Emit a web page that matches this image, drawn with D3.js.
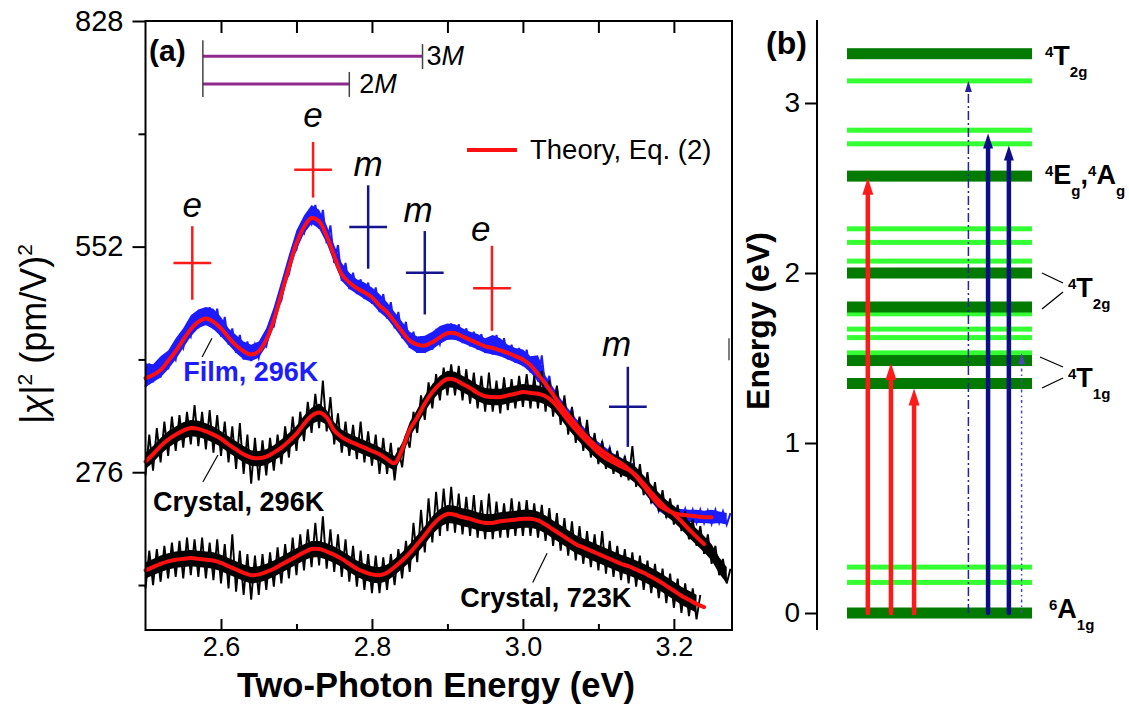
<!DOCTYPE html>
<html>
<head>
<meta charset="utf-8">
<script src="https://cdn.jsdelivr.net/npm/d3@7"></script>
<style>
  body { margin: 0; background: #fff; }
  svg { display: block; font-family: "Liberation Sans", Arial, sans-serif; }
</style>
</head>
<body>
<svg id="chart" width="1129" height="708"></svg>
<script>
// ---------- panel (a): two-photon spectra, energy grid 2.50 + i*0.01 eV ----------
const energyStart = 2.5;
const energyStep = 0.01;

// theory curves (red), |chi|^2 in (pm/V)^2
const filmTheory = [
  391, 395, 401, 412, 424, 438, 451, 460, 464, 460,
  452, 441, 431, 424, 420, 424, 438, 462, 494, 526,
  556, 576, 587, 583, 565, 541, 518, 508, 501, 496,
  490, 480, 472, 460, 448, 437, 432, 431, 435, 441,
  446, 446, 442, 438, 434, 430, 428, 425, 422, 418,
  414, 407, 396, 384, 371, 358, 346, 335, 324, 314,
  306, 299, 293, 287, 280, 271, 259, 247, 236, 230,
  226, 224, 223, 222, 221, 221
];
const crystal296Theory = [
  289, 298, 308, 316, 322, 327, 330, 329, 326, 322,
  317, 310, 304, 298, 294, 293, 295, 300, 306, 314,
  323, 335, 345, 349, 343, 327, 319, 314, 310, 306,
  302, 298, 292, 287, 304, 328, 343, 360, 374, 384,
  390, 389, 384, 379, 373, 369, 368, 368, 370, 372,
  374, 373, 372, 369, 362, 351, 339, 328, 318, 309,
  300, 293, 288, 283, 279, 272, 262, 251, 241, 232,
  225, 216, 206, 197, 188
];
const crystal723Theory = [
  156, 160, 164, 167, 169, 170, 171, 170, 169, 168,
  165, 161, 157, 153, 150, 151, 154, 158, 163, 168,
  173, 178, 182, 182, 179, 175, 170, 164, 158, 154,
  151, 150, 153, 160, 168, 177, 188, 199, 211, 220,
  225, 224, 221, 219, 216, 214, 214, 216, 217, 218,
  219, 219, 217, 212, 206, 200, 194, 188, 184, 180,
  176, 172, 168, 164, 161, 157, 153, 148, 143, 137,
  131, 125, 120, 115, 111
];

// measured data: extreme excursions (spikes) in each 0.01 eV bin
const filmHi = [
  409, 408, 418, 425, 440, 452, 468, 475, 478, 476,
  466, 452, 444, 436, 432, 436, 452, 478, 510, 542,
  572, 590, 603, 597, 578, 554, 532, 520, 512, 508,
  502, 494, 484, 472, 460, 448, 442, 443, 448, 455,
  458, 457, 452, 448, 445, 440, 444, 440, 432, 428,
  426, 418, 419, 394, 380, 366, 354, 342, 332, 320,
  313, 306, 299, 294, 287, 277, 264, 252, 241, 236,
  232, 231, 230, 230, 229, 230, 228, 226
];
const filmLo = [
  380, 386, 392, 402, 414, 428, 442, 452, 456, 451,
  442, 432, 422, 414, 412, 416, 430, 454, 486, 518,
  548, 568, 580, 574, 556, 532, 510, 500, 494, 488,
  482, 472, 464, 452, 440, 428, 422, 422, 426, 433,
  438, 438, 434, 430, 426, 422, 420, 418, 414, 410,
  406, 398, 387, 376, 362, 350, 338, 327, 316, 306,
  298, 291, 285, 279, 272, 263, 252, 240, 229, 222,
  218, 216, 215, 214, 214, 213, 214, 212
];
const crystal296Hi = [
  322, 330, 338, 344, 346, 350, 358, 350, 352, 346,
  338, 332, 336, 322, 318, 315, 318, 322, 332, 344,
  350, 362, 372, 388, 368, 348, 338, 334, 338, 326,
  322, 318, 312, 306, 322, 350, 370, 386, 396, 404,
  408, 406, 402, 398, 394, 398, 388, 392, 390, 394,
  396, 394, 400, 388, 382, 370, 356, 344, 340, 324,
  314, 306, 302, 296, 308, 286, 276, 264, 254, 244,
  236, 228, 218, 210, 200, 186, 170, 158
];
const crystal296Lo = [
  272, 278, 288, 296, 302, 306, 310, 308, 304, 300,
  296, 288, 280, 274, 262, 266, 272, 278, 286, 294,
  302, 314, 324, 330, 326, 310, 300, 296, 292, 288,
  284, 274, 274, 266, 282, 306, 324, 340, 354, 364,
  370, 370, 364, 360, 354, 350, 350, 348, 352, 354,
  356, 354, 354, 350, 344, 334, 322, 312, 302, 294,
  286, 280, 274, 270, 266, 258, 248, 238, 228, 220,
  212, 204, 194, 186, 176, 164, 150, 140
];
const crystal723Hi = [
  180, 182, 186, 190, 192, 196, 194, 196, 190, 194,
  188, 200, 180, 176, 174, 176, 178, 184, 188, 196,
  200, 206, 214, 222, 206, 200, 194, 186, 180, 176,
  174, 172, 176, 182, 192, 214, 230, 244, 252, 256,
  258, 250, 246, 248, 242, 250, 240, 238, 244, 240,
  242, 238, 236, 232, 226, 220, 216, 210, 204, 200,
  204, 192, 186, 182, 178, 174, 168, 164, 158, 152,
  146, 140, 134, 126
];
const crystal723Lo = [
  134, 138, 142, 146, 148, 146, 150, 148, 146, 144,
  140, 134, 130, 126, 120, 126, 132, 136, 140, 146,
  150, 156, 160, 162, 158, 154, 148, 142, 136, 132,
  128, 128, 132, 138, 146, 154, 166, 178, 190, 198,
  204, 202, 200, 198, 196, 194, 194, 196, 196, 198,
  198, 198, 196, 192, 186, 180, 174, 168, 164, 160,
  156, 152, 148, 144, 140, 136, 132, 128, 122, 116,
  110, 104, 100, 96
];

// measured data: dense core of the crystal traces
const crystal296CoreHi = [
  300, 308, 318, 326, 332, 337, 340, 339, 336, 332,
  326, 320, 314, 308, 303, 302, 304, 309, 316, 324,
  333, 345, 355, 360, 352, 337, 328, 323, 319, 315,
  311, 307, 301, 296, 312, 337, 353, 370, 384, 394,
  400, 399, 394, 389, 383, 379, 378, 378, 380, 382,
  384, 383, 382, 379, 372, 361, 349, 338, 328, 319,
  310, 303, 298, 293, 289, 282, 272, 261, 251, 242,
  235, 226, 216, 207, 198, 188, 172, 160
];
const crystal296CoreLo = [
  280, 288, 298, 306, 312, 317, 320, 319, 316, 312,
  307, 300, 294, 288, 284, 283, 285, 290, 296, 304,
  313, 325, 335, 339, 334, 318, 310, 305, 301, 297,
  293, 289, 283, 278, 295, 319, 334, 350, 364, 374,
  380, 379, 374, 369, 363, 359, 358, 358, 360, 362,
  364, 363, 362, 359, 352, 341, 329, 318, 308, 299,
  290, 283, 278, 273, 269, 262, 252, 241, 231, 222,
  215, 206, 196, 187, 178, 168, 152, 140
];
const crystal723CoreHi = [
  166, 170, 174, 177, 179, 180, 181, 180, 179, 178,
  175, 171, 167, 163, 160, 161, 164, 168, 173, 178,
  183, 188, 192, 192, 189, 185, 180, 174, 168, 164,
  161, 160, 163, 170, 178, 188, 199, 210, 222, 231,
  236, 235, 232, 230, 227, 225, 225, 227, 228, 229,
  230, 230, 228, 223, 217, 211, 205, 199, 195, 191,
  187, 183, 179, 175, 172, 168, 164, 159, 154, 148,
  142, 136, 131, 126
];
const crystal723CoreLo = [
  146, 150, 154, 157, 159, 160, 161, 160, 159, 158,
  155, 151, 147, 143, 140, 141, 144, 148, 153, 158,
  163, 168, 172, 172, 169, 165, 160, 154, 148, 144,
  141, 140, 143, 150, 158, 166, 177, 188, 200, 209,
  214, 213, 210, 208, 205, 203, 203, 205, 206, 207,
  208, 208, 206, 201, 195, 189, 183, 177, 173, 169,
  165, 161, 157, 153, 150, 146, 142, 137, 132, 126,
  120, 114, 109, 104
];

const xTicksMajor = [2.6, 2.8, 3.0, 3.2];
const xTicksMinor = [2.7, 2.9, 3.1];
const xTicksTop = [2.6, 2.7, 2.8, 2.9, 3.0, 3.1, 3.2];
const yTicksMajor = [276, 552, 828];
const yTicksMinor = [138, 414, 690];

// e / m resonance markers: centre, half height, label anchor
const markers = [
  { label: "e", e: 2.562, v: 532, dv: 45, lx: 2.562, lv: 588 },
  { label: "e", e: 2.722, v: 646, dv: 34, lx: 2.722, lv: 698 },
  { label: "m", e: 2.795, v: 576, dv: 51, lx: 2.795, lv: 638 },
  { label: "m", e: 2.870, v: 520, dv: 51, lx: 2.861, lv: 582 },
  { label: "e", e: 2.959, v: 501, dv: 52, lx: 2.944, lv: 559 },
  { label: "m", e: 3.139, v: 356, dv: 49, lx: 3.124, lv: 418 }
];
const markerHalfWidth = 0.025;

// magnon multiples 2M, 3M starting from the first e line
const mStart = 2.576;
const mEnergy = 0.097;
const multiples = [ { n: 3, v: 785 }, { n: 2, v: 751 } ];

const seriesLabels = [
  { text: "Film, 296K", color: "#1c1cff", e: 2.550, v: 387, from: [2.575, 417], to: [2.588, 440] },
  { text: "Crystal, 296K", color: "#000", e: 2.510, v: 228, from: [2.576, 264], to: [2.596, 297] },
  { text: "Crystal, 723K", color: "#000", e: 2.917, v: 111, from: [3.013, 141], to: [3.032, 177] }
];

// ---------- panel (b): energy levels ----------
const darkLevels = [0, 1.35, 1.485, 1.80, 2.0, 2.57, 3.29];
const lightLevels = [0.18, 0.27, 1.53, 1.62, 1.67, 1.76, 2.07, 2.18, 2.26, 2.76, 2.84, 3.13];
const bTicks = [0, 1, 2, 3];
const arrows = [
  { slot: 0.9, to: 2.56, kind: "red" },
  { slot: 1.9, to: 1.47, kind: "red" },
  { slot: 2.9, to: 1.32, kind: "red" },
  { slot: 5.25, to: 3.13, kind: "dash" },
  { slot: 6.1, to: 2.82, kind: "navy" },
  { slot: 7.0, to: 2.75, kind: "navy" },
  { slot: 7.55, to: 1.53, kind: "dot" }
];

// ======================================================================
const svg = d3.select("#chart");

const x = d3.scaleLinear().domain([2.5, 3.277]).range([145.5, 732]);
const y = d3.scaleLinear().domain([83, 828]).range([630, 21]);

const a = svg.append("g");

const smooth = d3.line().x(d => x(d[0])).y(d => y(d[1])).curve(d3.curveCatmullRom);
const jagged = d3.line().x(d => x(d[0])).y(d => y(d[1]));
const band = d3.area().x(d => x(d[0])).y0(d => y(d[1])).y1(d => y(d[2]));

const withEnergy = vals => vals.map((v, i) => [energyStart + i * energyStep, v]);
const bandOf = (lo, hi) => lo.map((v, i) => [energyStart + i * energyStep, v, hi[i]]);
const trace = (lo, hi) => lo.flatMap((v, i) => [
  [energyStart + i * energyStep, v],
  [energyStart + (i + 0.5) * energyStep, hi[i]]
]);

// film: thick blue band
a.append("path").attr("d", band(bandOf(filmLo, filmHi))).attr("fill", "#1c1cff");
a.append("path").attr("d", jagged(trace(filmLo, filmHi)))
  .attr("fill", "none").attr("stroke", "#1c1cff").attr("stroke-width", 2);

// crystals: dense core plus spikes
[[crystal296CoreLo, crystal296CoreHi, crystal296Lo, crystal296Hi],
 [crystal723CoreLo, crystal723CoreHi, crystal723Lo, crystal723Hi]].forEach(([cl, ch, lo, hi]) => {
  a.append("path").attr("d", band(bandOf(cl, ch))).attr("fill", "#000");
  a.append("path").attr("d", jagged(trace(lo, hi)))
    .attr("fill", "none").attr("stroke", "#000").attr("stroke-width", 1.9);
});

[filmTheory, crystal296Theory, crystal723Theory].forEach(t => {
  a.append("path").attr("d", smooth(withEnergy(t)))
    .attr("fill", "none").attr("stroke", "#ff1010").attr("stroke-width", 4).attr("stroke-linecap", "round");
});

// markers
markers.forEach(m => {
  const col = m.label === "e" ? "#ff1a1a" : "#14148c";
  a.append("line").attr("x1", x(m.e)).attr("x2", x(m.e)).attr("y1", y(m.v + m.dv)).attr("y2", y(m.v - m.dv))
    .attr("stroke", col).attr("stroke-width", 2.5);
  a.append("line").attr("x1", x(m.e - markerHalfWidth)).attr("x2", x(m.e + markerHalfWidth)).attr("y1", y(m.v)).attr("y2", y(m.v))
    .attr("stroke", col).attr("stroke-width", 2.5);
  a.append("text").attr("x", x(m.lx)).attr("y", y(m.lv)).attr("text-anchor", "middle")
    .attr("font-size", 35).attr("font-style", "italic").text(m.label);
});

// 2M / 3M bars
multiples.forEach(d => {
  const x0 = x(mStart), x1 = x(mStart + d.n * mEnergy);
  a.append("line").attr("x1", x0).attr("x2", x1).attr("y1", y(d.v)).attr("y2", y(d.v))
    .attr("stroke", "#8e2a8e").attr("stroke-width", 3);
  a.append("line").attr("x1", x1).attr("x2", x1).attr("y1", y(d.v) - 12).attr("y2", y(d.v) + 13)
    .attr("stroke", "#444").attr("stroke-width", 1.5);
  const t = a.append("text").attr("x", x1 + (d.n === 3 ? 4 : 10)).attr("y", y(d.v) + 9).attr("font-size", 27);
  t.append("tspan").text(d.n);
  t.append("tspan").attr("font-style", "italic").text("M");
});
a.append("line").attr("x1", x(mStart)).attr("x2", x(mStart)).attr("y1", y(multiples[0].v) - 16).attr("y2", y(multiples[1].v) + 13)
  .attr("stroke", "#444").attr("stroke-width", 1.5);

// series labels with leader lines
seriesLabels.forEach(s => {
  a.append("text").attr("x", x(s.e)).attr("y", y(s.v)).attr("font-size", 27).attr("font-weight", "bold")
    .attr("fill", s.color).text(s.text);
  a.append("line").attr("x1", x(s.from[0])).attr("y1", y(s.from[1])).attr("x2", x(s.to[0])).attr("y2", y(s.to[1]))
    .attr("stroke", "#000").attr("stroke-width", 1.2);
});

// legend
a.append("line").attr("x1", 467).attr("x2", 517).attr("y1", 150).attr("y2", 150)
  .attr("stroke", "#ff1010").attr("stroke-width", 4);
a.append("text").attr("x", 530).attr("y", 159).attr("font-size", 27.5).text("Theory, Eq. (2)");

a.append("text").attr("x", 149).attr("y", 61).attr("font-size", 30).attr("font-weight", "bold").text("(a)");

// axes of (a)
function styleAxis(g, size) {
  g.selectAll(".domain").remove();
  g.selectAll(".tick line").attr("stroke-width", 2);
  g.selectAll("text").attr("font-size", size || 26).attr("font-family", null).attr("fill", "#000");
}
a.append("g").attr("transform", "translate(0,630)")
  .call(d3.axisBottom(x).tickValues(xTicksMajor).tickSize(-11).tickPadding(7).tickFormat(d3.format(".1f"))).call(styleAxis, 27);
a.append("g").attr("transform", "translate(0,630)")
  .call(d3.axisBottom(x).tickValues(xTicksMinor).tickSize(-6).tickFormat("")).call(styleAxis);
a.append("g").attr("transform", "translate(0,21)")
  .call(d3.axisTop(x).tickValues(xTicksTop).tickSize(-12).tickFormat("")).call(styleAxis);
a.append("g").attr("transform", "translate(145.5,0)")
  .call(d3.axisLeft(y).tickValues(yTicksMajor).tickSize(13).tickPadding(9)).call(styleAxis, 29);
a.append("g").attr("transform", "translate(145.5,0)")
  .call(d3.axisLeft(y).tickValues(yTicksMinor).tickSize(7).tickFormat("")).call(styleAxis);
a.append("rect").attr("x", 145.5).attr("y", 21).attr("width", 586.5).attr("height", 609)
  .attr("fill", "none").attr("stroke", "#000").attr("stroke-width", 2);
a.append("line").attr("x1", x(3.273)).attr("x2", x(3.273)).attr("y1", y(440)).attr("y2", y(413))
  .attr("stroke", "#555").attr("stroke-width", 1.5);

a.append("text").attr("x", 436).attr("y", 697).attr("text-anchor", "middle")
  .attr("font-size", 34.5).attr("font-weight", "bold").text("Two-Photon Energy (eV)");

const yt = a.append("text").attr("transform", "translate(46,334) rotate(-90)").attr("text-anchor", "middle").attr("font-size", 36);
yt.append("tspan").text("|");
yt.append("tspan").attr("font-style", "italic").text("χ");
yt.append("tspan").text("|");
yt.append("tspan").attr("dy", -14).attr("font-size", 21).text("2");
yt.append("tspan").attr("dy", 14).text(" (pm/V)");
yt.append("tspan").attr("dy", -14).attr("font-size", 21).text("2");

// ======================================================================
// panel (b)
const b = svg.append("g");
const yb = d3.scaleLinear().domain([0, 3]).range([613, 103]);
const slot = d3.scaleLinear().domain([0, 8]).range([847, 1032]);

b.append("line").attr("x1", 817).attr("x2", 817).attr("y1", 20).attr("y2", 630).attr("stroke", "#000").attr("stroke-width", 2);
b.append("g").attr("transform", "translate(817,0)")
  .call(d3.axisLeft(yb).tickValues(bTicks).tickSize(12).tickPadding(5).tickFormat(d3.format("d"))).call(styleAxis, 28);

b.selectAll("rect.light").data(lightLevels).join("rect").attr("class", "light")
  .attr("x", slot(0)).attr("width", slot(8) - slot(0)).attr("y", d => yb(d) - 2.5).attr("height", 5).attr("fill", "#33ff33");
b.selectAll("rect.dark").data(darkLevels).join("rect").attr("class", "dark")
  .attr("x", slot(0)).attr("width", slot(8) - slot(0)).attr("y", d => yb(d) - 5.5).attr("height", 11).attr("fill", "#037b03");

const arrowStyle = {
  red: { color: "#ff1a1a", w: 4.5, hw: 5.5, hl: 17, dash: null },
  navy: { color: "#0d0d88", w: 4.5, hw: 5, hl: 15, dash: null },
  dash: { color: "#23239c", w: 1.5, hw: 3.5, hl: 11, dash: "9,3,2,3" },
  dot: { color: "#4a4ab0", w: 1.5, hw: 3.5, hl: 11, dash: "3,3,1.5,3" }
};
arrows.forEach(ar => {
  const s = arrowStyle[ar.kind];
  const cx = slot(ar.slot), tip = yb(ar.to), base = yb(0);
  b.append("line").attr("x1", cx).attr("x2", cx).attr("y1", base).attr("y2", tip + s.hl - 1)
    .attr("stroke", s.color).attr("stroke-width", s.w).attr("stroke-dasharray", s.dash)
    .attr("stroke-linecap", s.dash ? "butt" : "round");
  b.append("path").attr("d", `M${cx},${tip}L${cx - s.hw},${tip + s.hl}L${cx + s.hw},${tip + s.hl}Z`).attr("fill", s.color);
});

function levelLabel(px, py, parts) {
  const t = b.append("text").attr("x", px).attr("y", py).attr("font-weight", "bold");
  let shift = 0;
  parts.forEach(([txt, kind]) => {
    const target = kind === "sup" ? -8 : kind === "sub" ? 12 : 0;
    t.append("tspan").attr("dy", target - shift).attr("font-size", kind === "main" ? 27 : 15).text(txt);
    shift = target;
  });
}
levelLabel(1045, 65, [["4", "sup"], ["T", "main"], ["2g", "sub"]]);
levelLabel(1045, 184, [["4", "sup"], ["E", "main"], ["g", "sub"], [",", "main"], ["4", "sup"], ["A", "main"], ["g", "sub"]]);
levelLabel(1068, 297, [["4", "sup"], ["T", "main"], ["2g", "sub"]]);
levelLabel(1068, 387, [["4", "sup"], ["T", "main"], ["1g", "sub"]]);
levelLabel(1049, 618, [["6", "sup"], ["A", "main"], ["1g", "sub"]]);

// leader lines grouping split levels
[[1042, 273, 1063, 283], [1042, 309, 1063, 292], [1040, 357, 1063, 367], [1042, 388, 1063, 378]].forEach(l => {
  b.append("line").attr("x1", l[0]).attr("y1", l[1]).attr("x2", l[2]).attr("y2", l[3]).attr("stroke", "#000").attr("stroke-width", 1.3);
});

b.append("text").attr("x", 766).attr("y", 54).attr("font-size", 32).attr("font-weight", "bold").text("(b)");
b.append("text").attr("transform", "translate(769,321) rotate(-90)").attr("text-anchor", "middle")
  .attr("font-size", 32).attr("font-weight", "bold").text("Energy (eV)");
</script>
</body>
</html>
